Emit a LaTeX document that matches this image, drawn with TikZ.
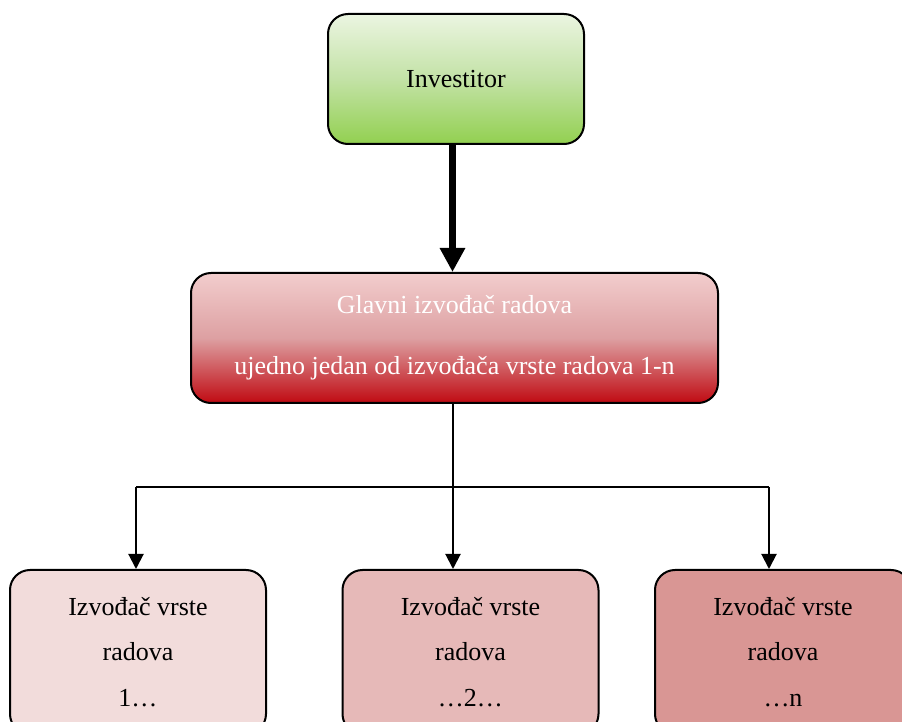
\documentclass[tikz,border=0pt]{standalone}
\usepackage{fontspec}
\setmainfont{Liberation Serif}
\usetikzlibrary{arrows.meta}

\definecolor{greenTop}{HTML}{EBF5E1}
\definecolor{greenMid}{HTML}{C3E2A6}
\definecolor{greenBot}{HTML}{92D050}
\definecolor{redTop}{HTML}{F2CDCD}
\definecolor{redMid}{HTML}{DDA0A2}
\definecolor{redBot}{HTML}{C00A12}
\definecolor{pink1}{HTML}{F2DCDB}
\definecolor{pink2}{HTML}{E6B9B8}
\definecolor{pink3}{HTML}{D99694}

\begin{document}
\begin{tikzpicture}[x=0.5pt, y=-0.5pt]
\tikzset{box/.style = {draw, line width=1pt, rounded corners=10pt, inner sep=0pt,
  align=center, font=\fontsize{13}{15.6}\selectfont}}
\tikzset{worker/.style = {box, minimum width=128pt, minimum height=82pt}}
\tikzset{line/.style = {line width=1pt}}
\tikzset{arr/.style = {line, -{Triangle[length=7.5pt, width=7.5pt]}}}
\useasboundingbox (0,0) rectangle (902,722);
\clip (0,0) rectangle (902,722);
\node[box, minimum width=128pt, minimum height=65pt, top color=greenTop,
  bottom color=greenBot, middle color=greenMid](investitor) at (456,79) {Investitor};
\node[box, minimum width=263.5pt, minimum height=65pt, top color=redTop,
  bottom color=redBot, middle color=redMid, text=white](glavni) at (454.5,338)
  {Glavni izvođač radova\\[15pt]ujedno jedan od izvođača vrste radova 1-n};
\node[worker, fill=pink1](izv1) at (138,652) {Izvođač vrste\\[7pt]radova\\[7pt]1…};
\node[worker, fill=pink2](izv2) at (470.5,652) {Izvođač vrste\\[7pt]radova\\[7pt]…2…};
\node[worker, fill=pink3](izvn) at (783,652) {Izvođač vrste\\[7pt]radova\\[7pt]…n};
\coordinate (split) at (453,487);
\coordinate (c1) at (136,487);
\coordinate (c3) at (769,487);
\draw[line width=3.5pt, -{Triangle[length=12pt, width=12pt]}] (investitor.south -| glavni.north) ++(-2,0) -- ([xshift=-1pt]glavni.north);
\draw[line] (glavni.south -| split) -- (split);
\draw[line] (c1) -- (c3);
\draw[arr] (c1) -- (c1 |- izv1.north);
\draw[arr] (split) -- (split |- izv2.north);
\draw[arr] (c3) -- (c3 |- izvn.north);
\end{tikzpicture}
\end{document}
